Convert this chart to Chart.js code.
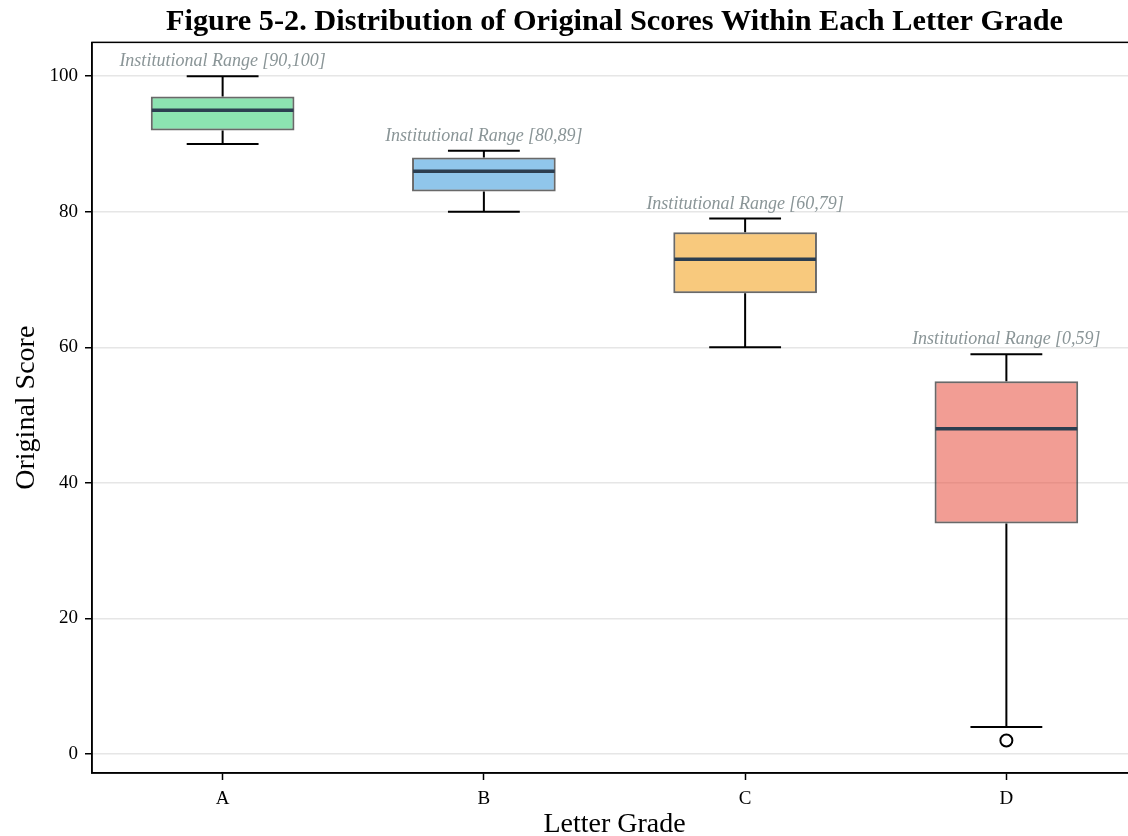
<!DOCTYPE html>
<html>
<head>
<meta charset="utf-8">
<title>Figure 5-2</title>
<script src="https://cdn.jsdelivr.net/npm/chart.js@4.4.0/dist/chart.umd.min.js"></script>
<style>
  html, body { margin: 0; padding: 0; background: #fff; overflow: hidden; }
  /* the plot runs a little past the right edge, as in the original figure */
  #wrap { width: 1128px; height: 836px; overflow: hidden; }
  #inner { position: relative; width: 1145px; height: 836px; }
</style>
</head>
<body>
<div id="wrap"><div id="inner"><canvas id="gradeChart"></canvas></div></div>
<script>
// Box plot numbers
const grades = ['A', 'B', 'C', 'D'];
const whiskerLow = [90, 80, 60, 4];
const q1 = [92, 83, 68, 34];
const medians = [95, 86, 73, 48];
const q3 = [97, 88, 77, 55];
const whiskerHigh = [100, 89, 79, 59];
const outliers = [null, null, null, 2];
const rangeLabels = [
  'Institutional Range [90,100]',
  'Institutional Range [80,89]',
  'Institutional Range [60,79]',
  'Institutional Range [0,59]'
];
const yTicks = [0, 20, 40, 60, 80, 100];

const fillColors = [
  'rgba(46,204,113,0.55)',
  'rgba(52,152,219,0.55)',
  'rgba(243,156,18,0.55)',
  'rgba(231,76,60,0.55)'
];
const serif = "'Liberation Serif', 'Times New Roman', serif";

// whiskers, caps, medians, range notes and the frame
const boxExtras = {
  id: 'boxExtras',
  afterDatasetsDraw(chart) {
    const { ctx, scales: { x, y } } = chart;
    const bars = chart.getDatasetMeta(0).data;
    ctx.save();
    grades.forEach((g, i) => {
      const cx = x.getPixelForValue(i);
      const half = bars[i].width / 2;
      const capHalf = half / 2;

      // whiskers
      ctx.strokeStyle = '#000';
      ctx.lineWidth = 2;
      ctx.beginPath();
      ctx.moveTo(cx, y.getPixelForValue(q3[i]));
      ctx.lineTo(cx, y.getPixelForValue(whiskerHigh[i]));
      ctx.moveTo(cx, y.getPixelForValue(q1[i]));
      ctx.lineTo(cx, y.getPixelForValue(whiskerLow[i]));
      // caps
      ctx.moveTo(cx - capHalf, y.getPixelForValue(whiskerHigh[i]));
      ctx.lineTo(cx + capHalf, y.getPixelForValue(whiskerHigh[i]));
      ctx.moveTo(cx - capHalf, y.getPixelForValue(whiskerLow[i]));
      ctx.lineTo(cx + capHalf, y.getPixelForValue(whiskerLow[i]));
      ctx.stroke();

      // median
      ctx.strokeStyle = '#2c3e50';
      ctx.lineWidth = 3.5;
      ctx.beginPath();
      ctx.moveTo(cx - half + 1, y.getPixelForValue(medians[i]));
      ctx.lineTo(cx + half - 1, y.getPixelForValue(medians[i]));
      ctx.stroke();

      // range note above the top whisker
      ctx.fillStyle = '#8a9597';
      ctx.font = "italic 18px " + serif;
      ctx.textAlign = 'center';
      ctx.textBaseline = 'alphabetic';
      ctx.fillText(rangeLabels[i], cx, y.getPixelForValue(whiskerHigh[i]) - 10);
    });

    // frame round the plot
    const a = chart.chartArea;
    ctx.strokeStyle = '#000';
    ctx.lineWidth = 1.5;
    ctx.strokeRect(a.left, a.top, a.right - a.left, a.bottom - a.top);
    ctx.restore();
  }
};

new Chart(document.getElementById('gradeChart'), {
  type: 'bar',
  data: {
    labels: grades,
    datasets: [
      {
        label: 'IQR',
        data: q1.map((v, i) => [v, q3[i]]),
        backgroundColor: fillColors,
        borderColor: 'rgba(55,55,55,0.75)',
        borderWidth: 2,
        borderSkipped: false,
        categoryPercentage: 1,
        barPercentage: 0.55
      },
      {
        type: 'line',
        label: 'Outliers',
        data: outliers,
        showLine: false,
        pointRadius: 6,
        pointBackgroundColor: '#fff',
        pointBorderColor: '#000',
        pointBorderWidth: 2
      }
    ]
  },
  options: {
    responsive: true,
    maintainAspectRatio: false,
    animation: false,
    layout: { padding: 0 },
    plugins: {
      legend: { display: false },
      tooltip: { enabled: false },
      title: {
        display: true,
        fullSize: false,
        text: 'Figure 5-2. Distribution of Original Scores Within Each Letter Grade',
        color: '#000',
        font: { family: serif, size: 30.3, weight: 'bold', lineHeight: 1.2 },
        padding: { top: 4, bottom: 2 }
      }
    },
    scales: {
      x: {
        offset: true,
        afterFit: (scale) => { scale.height = 63; },
        grid: { display: true, drawOnChartArea: false, offset: false, tickColor: '#000', tickLength: 7, tickWidth: 1.5 },
        border: { display: true, color: '#000', width: 1.5 },
        ticks: { color: '#000', font: { family: serif, size: 19, lineHeight: 1.0 }, padding: 10 },
        title: {
          display: true,
          text: 'Letter Grade',
          color: '#000',
          font: { family: serif, size: 28, lineHeight: 0.8 },
          padding: { top: 0, bottom: 0 }
        }
      },
      y: {
        min: -2.8,
        max: 105,
        afterBuildTicks: (scale) => { scale.ticks = yTicks.map(v => ({ value: v })); },
        afterFit: (scale) => { scale.width = 92; },
        grid: { color: '#e6e6e6', lineWidth: 1.5, tickColor: '#000', tickLength: 7, tickWidth: 1.5 },
        border: { display: true, color: '#000', width: 1.5 },
        ticks: { color: '#000', font: { family: serif, size: 19 }, padding: 7 },
        title: {
          display: true,
          text: 'Original Score',
          color: '#000',
          font: { family: serif, size: 28, lineHeight: 1.1 },
          padding: { top: 11, bottom: 0 }
        }
      }
    }
  },
  plugins: [boxExtras]
});
</script>
</body>
</html>
